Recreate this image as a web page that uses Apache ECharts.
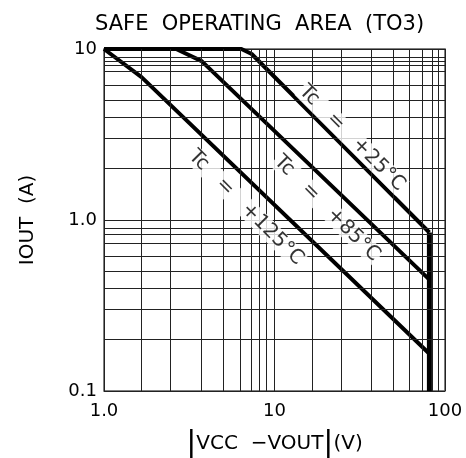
<!DOCTYPE html>
<html><head><meta charset="utf-8">
<script src="https://cdn.jsdelivr.net/npm/echarts@6/dist/echarts.min.js"></script>
<style>html,body{margin:0;padding:0;background:#fff}#c{width:466px;height:458px}</style>
</head><body><div id="c"></div>
<script>
// Data
const title = 'SAFE  OPERATING  AREA  (TO3)';
const xTicks = [1, 10, 100];
const xTickLabels = ['1.0', '10', '100'];
const yTicks = [0.1, 1, 10];
const yTickLabels = ['0.1', '1.0', '10'];
const curve25 = [[1, 10], [6.4, 10], [7.35, 9.35], [81, 0.845]];
const curve85 = [[1, 10], [2.65, 10], [3.74, 8.5], [81, 0.448]];
const curve125 = [[1, 10], [1.66, 6.85], [81, 0.165]];
const limitLine = [[81, 0.845], [81, 0.1]];
const label25 = { text: 'Tc   =   +25°C', at: [28.5, 3.01] };
const label85 = { text: 'Tc   =   +85°C', at: [20.3, 1.17] };
const label125 = { text: 'Tc   =   +125°C', at: [6.8, 1.18] };
const xMinorGrid = [1.66, 2.45, 3.7, 5, 6.3, 7.3, 8.1, 8.9, 16.6, 24.5, 37, 50, 62, 74, 84, 91];
const yMinorGrid = [0.2, 0.3, 0.4, 0.5, 0.61, 0.73, 0.82, 0.9, 2, 3, 4, 5, 6.1, 7.4, 8, 8.5, 9];

const FONT = 'DejaVu Sans';
const chart = echarts.init(document.getElementById('c'), null, { renderer: 'canvas' });
const fmtX = v => { const i = xTicks.findIndex(t => Math.abs(t - v) < 1e-9 * t); return i >= 0 ? xTickLabels[i] : ''; };
const fmtY = v => { const i = yTicks.findIndex(t => Math.abs(t - v) < 1e-9 * t); return i >= 0 ? yTickLabels[i] : ''; };
const curveStyle = { color: '#000', width: 4 };
function labelSeries(l) {
  return {
    type: 'scatter', symbolSize: 1, itemStyle: { color: 'rgba(0,0,0,0)' }, silent: true, z: 5,
    data: [l.at],
    label: { show: true, position: 'inside', rotate: -45, formatter: l.text, color: '#000',
      fontFamily: FONT, fontSize: 20, backgroundColor: '#fff', padding: [0, 1] }
  };
}
chart.setOption({
  animation: false,
  backgroundColor: '#fff',
  title: { text: title, left: 90, top: 9, textStyle: { fontFamily: FONT, fontSize: 21, fontWeight: 'normal', color: '#000' } },
  grid: { left: 104, right: 21, top: 49, bottom: 67, show: true, borderColor: '#555', borderWidth: 1.5,
    outerBoundsMode: 'none', containLabel: false },
  xAxis: {
    type: 'log', logBase: 10, min: 1, max: 100,
    axisLine: { show: false }, axisTick: { show: false },
    splitLine: { show: true, lineStyle: { color: '#222', width: 1 } },
    axisLabel: { formatter: fmtX, fontFamily: FONT, fontSize: 18, color: '#000', margin: 11 },
    name: '{b||}VCC  −VOUT{b||}(V)', nameLocation: 'middle', nameGap: 38,
    nameTextStyle: { fontFamily: FONT, fontSize: 20, color: '#000',
      rich: { b: { fontFamily: FONT, fontSize: 30, color: '#000' } } }
  },
  yAxis: {
    type: 'log', logBase: 10, min: 0.1, max: 10,
    axisLine: { show: false }, axisTick: { show: false },
    splitLine: { show: true, lineStyle: { color: '#222', width: 1 } },
    axisLabel: { formatter: fmtY, fontFamily: FONT, fontSize: 18, color: '#000', margin: 7 },
    name: 'IOUT  (A)', nameLocation: 'middle', nameGap: 66, nameRotate: 90,
    nameTextStyle: { fontFamily: FONT, fontSize: 20, color: '#000' }
  },
  series: [
    { type: 'line', data: [], silent: true,
      markLine: { silent: true, symbol: ['none', 'none'], label: { show: false },
        lineStyle: { color: '#222', width: 1, type: 'solid' },
        data: xMinorGrid.map(v => ({ xAxis: v })).concat(yMinorGrid.map(v => ({ yAxis: v }))) } },
    { type: 'line', data: curve25, showSymbol: false, lineStyle: curveStyle, z: 4 },
    { type: 'line', data: curve85, showSymbol: false, lineStyle: curveStyle, z: 4 },
    { type: 'line', data: curve125, showSymbol: false, lineStyle: curveStyle, z: 4 },
    { type: 'line', data: limitLine, showSymbol: false, lineStyle: { color: '#000', width: 5 }, z: 4 },
    labelSeries(label25), labelSeries(label85), labelSeries(label125)
  ]
});
</script></body></html>
